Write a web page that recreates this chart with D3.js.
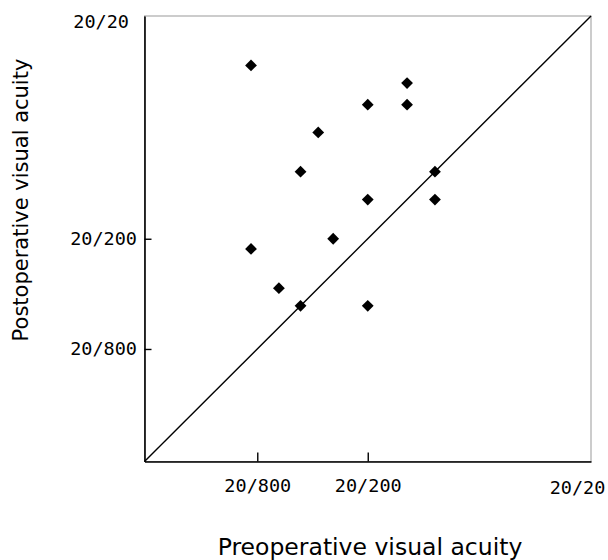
<!DOCTYPE html>
<html>
<head>
<meta charset="utf-8">
<script src="https://cdn.jsdelivr.net/npm/d3@7"></script>
<style>
  body { margin: 0; background: #fff; }
  svg { display: block; }
</style>
</head>
<body>
<div id="chart"></div>
<script>
// decimal visual acuity, one entry per eye
const preop = [0.03, 0.15, 0.1, 0.15, 0.06, 0.05, 0.2, 0.1, 0.2, 0.07, 0.03, 0.04, 0.05, 0.1];
const postop = [0.6, 0.5, 0.4, 0.4, 0.3, 0.2, 0.2, 0.15, 0.15, 0.1, 0.09, 0.06, 0.05, 0.05];

// axis ticks (decimal value -> snellen label)
const tickValues = [0.032, 0.1, 1];
const tickLabels = ['20/800', '20/200', '20/20'];

const width = 608;
const height = 560;
const margin = {top: 16, right: 17, bottom: 98.5, left: 144.5};

const svg = d3.select('#chart').append('svg')
    .attr('width', width)
    .attr('height', height);

const x = d3.scaleLog()
    .domain([0.01, 1])
    .range([margin.left, width - margin.right]);
const y = d3.scaleLog()
    .domain([0.01, 1])
    .range([height - margin.bottom, margin.top]);

const label = (d) => tickLabels[tickValues.indexOf(d)];

// light frame on top / right
svg.append('rect')
    .attr('x', x(0.01))
    .attr('y', y(1))
    .attr('width', x(1) - x(0.01))
    .attr('height', y(0.01) - y(1))
    .attr('fill', 'none')
    .attr('stroke', '#999')
    .attr('stroke-width', 1);

const xAxis = svg.append('g')
    .attr('transform', `translate(0,${y(0.01)})`)
    .call(d3.axisBottom(x)
        .tickValues(tickValues)
        .tickFormat(label)
        .tickSizeInner(-9)
        .tickSizeOuter(0)
        .tickPadding(17));

const yAxis = svg.append('g')
    .attr('transform', `translate(${x(0.01)},0)`)
    .call(d3.axisLeft(y)
        .tickValues(tickValues)
        .tickFormat(label)
        .tickSizeInner(-7)
        .tickSizeOuter(0)
        .tickPadding(7.5));

[xAxis, yAxis].forEach((g) => {
  g.select('.domain').attr('stroke', '#000').attr('stroke-width', 1.6);
  g.selectAll('.tick line').attr('stroke', '#000').attr('stroke-width', 1.4);
  g.selectAll('.tick text')
      .attr('fill', '#000')
      .attr('font-family', '"DejaVu Sans Mono", monospace')
      .attr('font-size', 18.5);
  // 20/20 sits on the frame corner, no tick mark there
  g.selectAll('.tick').filter((d) => d === 1).select('line').remove();
});

xAxis.selectAll('.tick').filter((d) => d === 1).select('text')
    .attr('dx', -14).attr('dy', '0.86em');
yAxis.selectAll('.tick').filter((d) => d === 1).select('text')
    .attr('dx', -8).attr('dy', '0.62em');

// line of equality
svg.append('line')
    .attr('x1', x(0.01)).attr('y1', y(0.01))
    .attr('x2', x(1)).attr('y2', y(1))
    .attr('stroke', '#000')
    .attr('stroke-width', 1.4);

const r = 5.9;
const diamond = `M0,${-r}L${r},0L0,${r}L${-r},0Z`;

svg.append('g')
    .selectAll('path')
    .data(preop.map((d, i) => ({pre: d, post: postop[i]})))
    .join('path')
    .attr('d', diamond)
    .attr('transform', (d) => `translate(${x(d.pre)},${y(d.post)})`)
    .attr('fill', '#000');

const titleFont = '"DejaVu Sans", sans-serif';

svg.append('text')
    .attr('x', 370)
    .attr('y', 555)
    .attr('text-anchor', 'middle')
    .attr('font-family', titleFont)
    .attr('font-size', 23.5)
    .text('Preoperative visual acuity');

svg.append('text')
    .attr('transform', 'translate(28,200) rotate(-90)')
    .attr('text-anchor', 'middle')
    .attr('font-family', titleFont)
    .attr('font-size', 21)
    .text('Postoperative visual acuity');
</script>
</body>
</html>
